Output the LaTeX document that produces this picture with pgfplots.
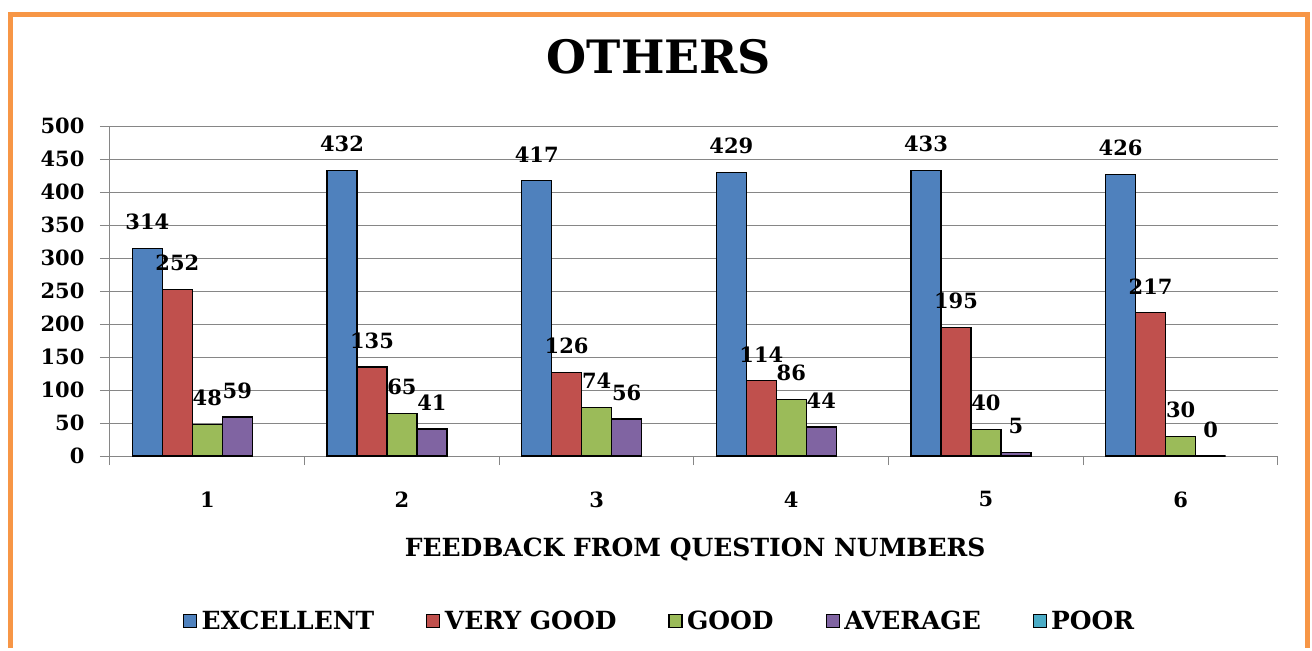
\documentclass[border=0pt]{standalone}
\usepackage{pgfplots}
\pgfplotsset{compat=1.18}
\usepackage{fontspec}
\setmainfont{DejaVu Serif}
\definecolor{cEx}{HTML}{4F81BD}
\definecolor{cVg}{HTML}{C0504D}
\definecolor{cGd}{HTML}{9BBB59}
\definecolor{cAv}{HTML}{8064A2}
\definecolor{cPr}{HTML}{4BACC6}
\definecolor{cOr}{HTML}{F79646}
\definecolor{cGr}{HTML}{868686}
\pgfplotsset{
  sqlegend/.style={legend image code/.code={\draw[##1] (0pt,-6.5pt) rectangle (13pt,6.5pt); \path[draw=none,fill=none] (0pt,0pt) rectangle (16pt,0.1pt);}},
}
\begin{document}
\begin{tikzpicture}
\begin{axis}[
  scale only axis, width=1168pt, height=330pt,
  clip=false,
  xmin=0.5, xmax=6.5, ymin=0, ymax=500,
  xtick={1,...,6}, minor xtick={0.5,1.5,...,6.5},
  ytick={0,50,...,500},
  axis x line*=bottom, axis y line*=left,
  axis line style={cGr, line width=1pt, -},
  ymajorgrids, grid style={cGr, line width=1pt},
  tick align=outside,
  major tick length=10pt, minor tick length=9pt,
  major x tick style={draw=none},
  minor x tick style={draw=cGr, line width=1pt},
  ytick style={draw=cGr, line width=1pt},
  /pgf/number format/assume math mode=true,
  ticklabel style={font=\bfseries\fontsize{21}{25}\selectfont},
  xticklabel style={yshift=-22pt},
  yticklabel style={xshift=-12pt},
  ybar=0pt, bar width=0.154,
  nodes near coords,
  every node near coord/.append style={font=\bfseries\fontsize{21}{25}\selectfont, anchor=south, inner sep=0pt, yshift=18pt, text=black},
  title={OTHERS},
  title style={font=\bfseries\fontsize{46}{54}\selectfont, at={(axis description cs:0.470,1.191)}, anchor=center},
  xlabel={FEEDBACK FROM QUESTION NUMBERS},
  xlabel style={font=\bfseries\fontsize{25}{30}\selectfont, at={(axis description cs:0.501,-0.282)}, anchor=center},
  legend columns=5,
  legend style={at={(axis description cs:0.4706,-0.50)}, anchor=center, draw=none,
    font=\bfseries\fontsize{25}{30}\selectfont,
    /tikz/every even column/.append style={column sep=50pt}},
]
\addplot+[bar shift=-0.308, fill=cEx, draw=black, line width=1.2pt, sqlegend] coordinates {(1,314) (2,432) (3,417) (4,429) (5,433) (6,426)};
\addplot+[bar shift=-0.154, fill=cVg, draw=black, line width=1.2pt, sqlegend] coordinates {(1,252) (2,135) (3,126) (4,114) (5,195) (6,217)};
\addplot+[bar shift=0, fill=cGd, draw=black, line width=1.2pt, sqlegend] coordinates {(1,48) (2,65) (3,74) (4,86) (5,40) (6,30)};
\addplot+[bar shift=0.154, fill=cAv, draw=black, line width=1.2pt, sqlegend] coordinates {(1,59) (2,41) (3,56) (4,44) (5,5) (6,0)};
\addlegendimage{fill=cPr, draw=none, sqlegend}
\legend{EXCELLENT, VERY GOOD, GOOD, AVERAGE, POOR}
\path ([shift={(-110pt,-192pt)}]rel axis cs:0,0) rectangle ([shift={(1202pt,456pt)}]rel axis cs:0,0);
\draw[cOr, line width=5pt] ([shift={(-99.5pt,-192pt)}]rel axis cs:0,0) -- ([shift={(-99.5pt,441.5pt)}]rel axis cs:0,0) -- ([shift={(1197.5pt,441.5pt)}]rel axis cs:0,0) -- ([shift={(1197.5pt,-192pt)}]rel axis cs:0,0);
\end{axis}
\end{tikzpicture}
\end{document}
